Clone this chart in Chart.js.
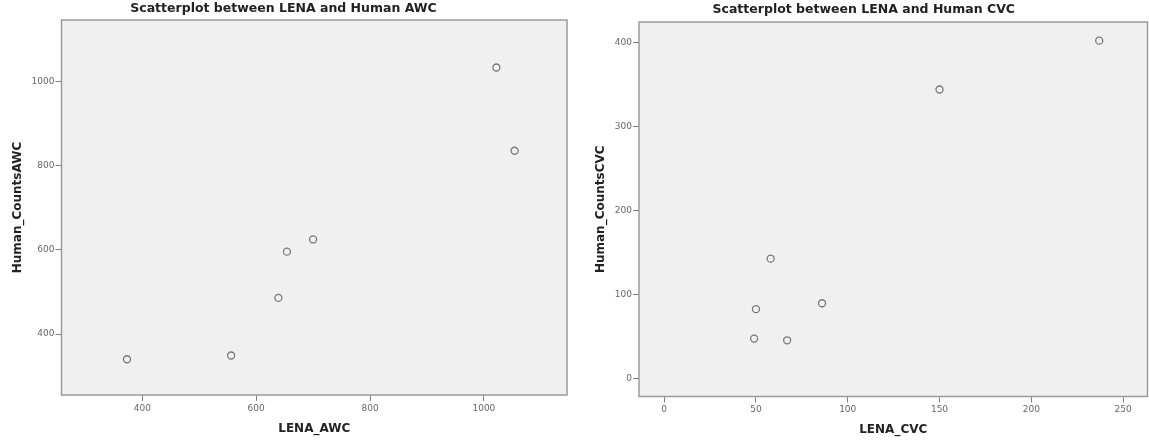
<!DOCTYPE html>
<html>
<head>
<meta charset="utf-8">
<script src="https://cdn.jsdelivr.net/npm/chart.js@4.4.0/dist/chart.umd.min.js"></script>
<style>
  body { margin: 0; background: #fff; }
  .grafica { position: absolute; top: 0; height: 441px; }
</style>
</head>
<body>
<div class="grafica" style="left:0;width:580px"><canvas id="chartAWC" width="580" height="441"></canvas></div>
<div class="grafica" style="left:580px;width:569px"><canvas id="chartCVC" width="569" height="441"></canvas></div>
<script>
// DATOS
const lenaAWC = [373, 556, 639, 654, 700, 1022, 1054];
const humanAWC = [340, 349, 486, 596, 625, 1034, 836];
const lenaCVC = [49, 50, 58, 67, 86, 150, 237];
const humanCVC = [48, 83, 143, 46, 90, 344, 402];

// etiquetas de los ejes
const ticksAWCx = [400, 600, 800, 1000];
const ticksAWCy = [400, 600, 800, 1000];
const ticksCVCx = [0, 50, 100, 150, 200, 250];
const ticksCVCy = [0, 100, 200, 300, 400];

const fuente = "DejaVu Sans";

// pinta el fondo gris y el marco del area del grafico
const marcoPlugin = {
    id: "marco",
    beforeDraw(chart) {
        const {ctx, chartArea: a} = chart;
        ctx.save();
        ctx.fillStyle = "#f0f0f0";
        ctx.fillRect(a.left, a.top, a.right - a.left, a.bottom - a.top);
        ctx.restore();
    },
    beforeDatasetsDraw(chart) {
        const {ctx, chartArea: a} = chart;
        ctx.save();
        ctx.strokeStyle = "#9a9a9a";
        ctx.lineWidth = 1.5;
        ctx.strokeRect(a.left, a.top, a.right - a.left, a.bottom - a.top);
        ctx.restore();
    }
};

function generaConfig(xs, ys, cfg) {
    const puntos = xs.map((x, i) => ({x: x, y: ys[i]}));
    const escala = (ticks, min, max, titulo, pad, tam, esY) => ({
        type: "linear",
        min: min,
        max: max,
        afterBuildTicks: (axis) => { axis.ticks = ticks.map(v => ({value: v})); },
        afterFit: (axis) => {
            // tamaño fijo del eje y sin relleno extra por las etiquetas
            if (esY) axis.width = tam; else axis.height = tam;
            axis.paddingLeft = 0; axis.paddingRight = 0;
            axis.paddingTop = 0; axis.paddingBottom = 0;
        },
        grid: { drawOnChartArea: false, drawTicks: true, tickLength: 6, color: "#808080" },
        border: { display: false },
        ticks: {
            padding: esY ? 1 : 2,
            color: "#666",
            font: { family: fuente, size: 9 },
            callback: (v) => String(v)
        },
        title: {
            display: true,
            text: titulo,
            color: "#222",
            font: { family: fuente, size: 12, weight: "bold" },
            padding: pad
        }
    });
    return {
        type: "scatter",
        data: {
            datasets: [{
                data: puntos,
                pointRadius: 3.5,
                pointBorderWidth: 1.3,
                borderColor: "#777",
                backgroundColor: "rgba(0,0,0,0)",
                clip: false
            }]
        },
        options: {
            responsive: false,
            animation: false,
            devicePixelRatio: 1,
            layout: { autoPadding: false, padding: { left: 0, right: cfg.padDer, top: 0, bottom: 0 } },
            plugins: {
                legend: { display: false },
                tooltip: { enabled: false },
                title: {
                    display: true,
                    text: cfg.titulo,
                    color: "#222",
                    font: { family: fuente, size: 12.5, weight: "bold" },
                    padding: cfg.padTitulo
                }
            },
            scales: {
                x: escala(cfg.ticksX, cfg.minX, cfg.maxX, cfg.tituloX, {top: 0, bottom: cfg.padTituloX}, cfg.altoX, false),
                y: escala(cfg.ticksY, cfg.minY, cfg.maxY, cfg.tituloY, {top: cfg.padTituloY, bottom: 0}, cfg.anchoY, true)
            }
        },
        plugins: [marcoPlugin]
    };
}

new Chart(document.getElementById("chartAWC"), generaConfig(lenaAWC, humanAWC, {
    titulo: "Scatterplot between LENA and Human AWC",
    tituloX: "LENA_AWC",
    tituloY: "Human_CountsAWC",
    ticksX: ticksAWCx, ticksY: ticksAWCy,
    minX: 258, maxX: 1146, minY: 255, maxY: 1147,
    padDer: 13, padTitulo: {top: 1, bottom: 4},
    padTituloX: 5, altoX: 46,
    padTituloY: 11, anchoY: 61.5
}));

new Chart(document.getElementById("chartCVC"), generaConfig(lenaCVC, humanCVC, {
    titulo: "Scatterplot between LENA and Human CVC",
    tituloX: "LENA_CVC",
    tituloY: "Human_CountsCVC",
    ticksX: ticksCVCx, ticksY: ticksCVCy,
    minX: -13.7, maxX: 263.3, minY: -20.8, maxY: 424.2,
    padDer: 1.5, padTitulo: {top: 2, bottom: 5},
    padTituloX: 4, altoX: 44.5,
    padTituloY: 14, anchoY: 59
}));
</script>
</body>
</html>
